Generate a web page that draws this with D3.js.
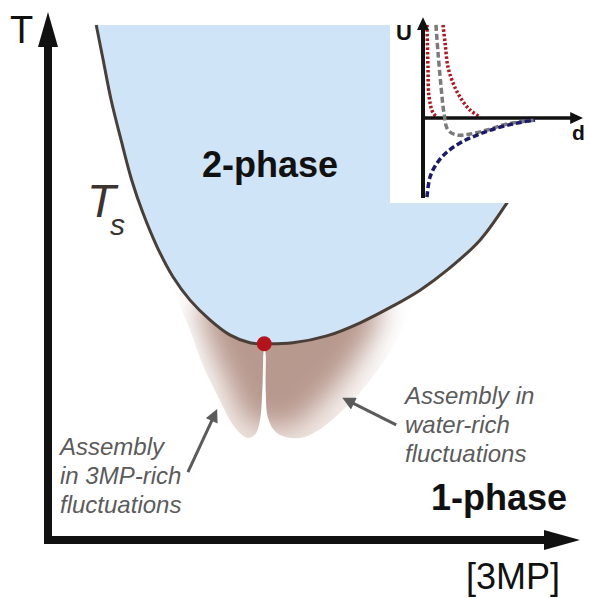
<!DOCTYPE html>
<html><head><meta charset="utf-8">
<script src="https://cdn.jsdelivr.net/npm/d3@7"></script>
<style>body{margin:0;background:#fff;overflow:hidden}</style>
</head><body>
<script>
// ---- data (schematic phase diagram; x = [3MP] fraction, T = reduced temperature) ----
const coexX = [0.091,0.104,0.119,0.138,0.158,0.179,0.206,0.236,0.268,0.306,0.343,0.381,0.408,0.462,0.526,0.589,0.651,0.702,0.753,0.815,0.866,0.909];
const coexT = [0.979,0.913,0.837,0.760,0.684,0.622,0.557,0.500,0.456,0.418,0.390,0.375,0.373,0.375,0.388,0.413,0.445,0.475,0.513,0.570,0.641,0.713];
const topT = 0.979;
const critical = {x:0.408, T:0.373};

// outlines of the two fluctuation lobes below the critical point
const lobeLeftX = [0.249,0.208,0.236,0.268,0.292,0.319,0.353,0.377,0.392,0.400,0.404,0.406,0.406,0.325];
const lobeLeftT = [0.570,0.548,0.475,0.399,0.333,0.276,0.213,0.194,0.202,0.228,0.276,0.348,0.390,0.456];
const lobeRightX = [0.411,0.411,0.411,0.415,0.430,0.457,0.485,0.517,0.557,0.608,0.651,0.692,0.711,0.532];
const lobeRightT = [0.390,0.348,0.276,0.232,0.205,0.194,0.196,0.213,0.247,0.304,0.367,0.456,0.494,0.418];
// region of strongest fluctuations (darkest shading)
const coreX = [0.287,0.296,0.334,0.372,0.396,0.409,0.423,0.457,0.513,0.570,0.617,0.626,0.408];
const coreT = [0.456,0.390,0.304,0.228,0.213,0.219,0.213,0.213,0.257,0.323,0.399,0.456,0.456];

const arrowLeft  = [[0.264,0.129],[0.315,0.240]];
const arrowRight = [[0.657,0.219],[0.564,0.266]];

// inset: pair potentials U(d)
const redNearD = [0.025,0.031,0.038,0.063,0.088];
const redNearU = [1.163,0.638,0.263,0.063,0.013];
const redFarD  = [0.125,0.138,0.156,0.188,0.231,0.294,0.356];
const redFarU  = [1.163,0.938,0.638,0.438,0.263,0.100,0.013];
const grayD    = [0.081,0.094,0.113,0.131,0.156,0.213,0.294,0.400,0.525,0.650,0.700];
const grayU    = [1.163,0.813,0.388,0.063,-0.150,-0.213,-0.200,-0.150,-0.075,-0.038,-0.025];
const navyD    = [0.025,0.044,0.088,0.150,0.231,0.338,0.463,0.588,0.700];
const navyU    = [-0.988,-0.738,-0.563,-0.425,-0.313,-0.213,-0.125,-0.063,-0.025];

const labelsLeft  = ["Assembly","in 3MP-rich","fluctuations"];
const labelsRight = ["Assembly in","water-rich","fluctuations"];

// ---- drawing ----
const W = 589, H = 598;
const FONT = "'Liberation Sans', Arial, Helvetica, sans-serif";
const svg = d3.select("body").append("svg").attr("width", W).attr("height", H);
const defs = svg.append("defs");

const x = d3.scaleLinear().domain([0,1]).range([48,578]);
const y = d3.scaleLinear().domain([0,1]).range([540,14]);

const zip = (a,b) => a.map((v,i)=>[v,b[i]]);

// fluctuation lobes: light base + blurred core, clipped to lobe outlines
const closedLine = d3.line().x(d=>x(d[0])).y(d=>y(d[1])).curve(d3.curveCatmullRomClosed.alpha(0.5));
const lobePaths = [closedLine(zip(lobeLeftX, lobeLeftT)), closedLine(zip(lobeRightX, lobeRightT))];

const clip = defs.append("clipPath").attr("id","lobeClip");
lobePaths.forEach(p => clip.append("path").attr("d", p));

const filt = defs.append("filter").attr("id","soft").attr("filterUnits","userSpaceOnUse")
  .attr("x",0).attr("y",0).attr("width",W).attr("height",H);
filt.append("feGaussianBlur").attr("stdDeviation",14);

const baseGrad = defs.append("linearGradient").attr("id","bg").attr("gradientUnits","userSpaceOnUse")
  .attr("x1",0).attr("x2",0).attr("y1", y(critical.T)).attr("y2", y(0.194));
baseGrad.append("stop").attr("offset",0).attr("stop-color","#efe4df").attr("stop-opacity",0);
baseGrad.append("stop").attr("offset",0.5).attr("stop-color","#efe4df").attr("stop-opacity",0.4);
baseGrad.append("stop").attr("offset",1).attr("stop-color","#efe4df").attr("stop-opacity",0.9);

const lobeOuter = svg.append("g").attr("clip-path","url(#lobeClip)");
lobePaths.forEach(p => lobeOuter.append("path").attr("d", p).attr("fill","url(#bg)"));
lobeOuter.append("path").attr("d", closedLine(zip(coreX, coreT)))
  .attr("fill","#b8998e").attr("filter","url(#soft)");

// two-phase region
const coex = zip(coexX, coexT);
const area = d3.area().x(d=>x(d[0])).y0(y(topT)).y1(d=>y(d[1])).curve(d3.curveCatmullRom.alpha(0.5));
svg.append("path").attr("d", area(coex)).attr("fill","#cfe4f6");
svg.append("path").attr("d", d3.line().x(d=>x(d[0])).y(d=>y(d[1])).curve(d3.curveCatmullRom.alpha(0.5))(coex))
  .attr("fill","none").attr("stroke","#4a3f37").attr("stroke-width",3);
svg.append("circle").attr("cx", x(critical.x)).attr("cy", y(critical.T)).attr("r",7.5).attr("fill","#b5131c");

// main axes
const axisColor = "#111";
svg.append("path").attr("d", `M${x(0)},46 L${x(0)},${y(0)} L545,${y(0)}`)
  .attr("fill","none").attr("stroke",axisColor).attr("stroke-width",8).attr("stroke-linejoin","miter").attr("stroke-linecap","square");
svg.append("path").attr("d", `M${x(0)},12 L${x(0)+10},47 L${x(0)-10},47 Z`).attr("fill",axisColor);
svg.append("path").attr("d", `M580,${y(0)} L544,${y(0)-10} L544,${y(0)+10} Z`).attr("fill",axisColor);

// text labels
svg.append("text").attr("x",10).attr("y",43).text("T")
  .attr("font-family",FONT).attr("font-size",38).attr("fill","#111");
svg.append("text").attr("x",560).attr("y",589).attr("text-anchor","end").text("[3MP]")
  .attr("font-family",FONT).attr("font-size",36).attr("fill","#111");
svg.append("text").attr("x",270).attr("y",177).attr("text-anchor","middle").text("2-phase")
  .attr("font-family",FONT).attr("font-size",36).attr("font-weight","bold").attr("fill","#111");
svg.append("text").attr("x",567).attr("y",510).attr("text-anchor","end").text("1-phase")
  .attr("font-family",FONT).attr("font-size",36).attr("font-weight","bold").attr("fill","#111");
svg.append("text").attr("x",87).attr("y",217).attr("font-family",FONT).attr("fill","#3b3430")
  .attr("font-style","italic").attr("font-size",47).text("T");
svg.append("text").attr("x",110).attr("y",235).attr("font-family",FONT).attr("fill","#3b3430")
  .attr("font-style","italic").attr("font-size",30).text("s");

svg.selectAll("text.ll").data(labelsLeft).join("text").attr("class","ll")
  .attr("x",60).attr("y",(d,i)=>455+i*29).text(d=>d)
  .attr("font-family",FONT).attr("font-size",24).attr("font-style","italic").attr("fill","#5b5b5b");
svg.selectAll("text.lr").data(labelsRight).join("text").attr("class","lr")
  .attr("x",405).attr("y",(d,i)=>404+i*29).text(d=>d)
  .attr("font-family",FONT).attr("font-size",24).attr("font-style","italic").attr("fill","#5b5b5b");

// gray annotation arrows
defs.append("marker").attr("id","ah").attr("viewBox","0 0 10 10").attr("refX",6).attr("refY",5)
  .attr("markerUnits","userSpaceOnUse").attr("markerWidth",15).attr("markerHeight",13).attr("orient","auto")
  .append("path").attr("d","M0,0 L10,5 L0,10 Z").attr("fill","#5b5b5b");
[arrowLeft, arrowRight].forEach(a=>{
  svg.append("path").attr("d", d3.line().x(d=>x(d[0])).y(d=>y(d[1]))(a))
    .attr("stroke","#5b5b5b").attr("stroke-width",3).attr("fill","none").attr("marker-end","url(#ah)");
});

// ---- inset ----
svg.append("rect").attr("x",390).attr("y",0).attr("width",W-390).attr("height",203).attr("fill","#fff");
const dS = d3.scaleLinear().domain([0,1]).range([423,583]);
const uS = d3.scaleLinear().domain([-1,1]).range([198,38]);
const iline = d3.line().x(d=>dS(d[0])).y(d=>uS(d[1])).curve(d3.curveCatmullRom);
svg.append("path").attr("d", iline(zip(redNearD, redNearU))).attr("fill","none")
  .attr("stroke","#b3141f").attr("stroke-width",3.5).attr("stroke-dasharray","2.5,2");
svg.append("path").attr("d", iline(zip(redFarD, redFarU))).attr("fill","none")
  .attr("stroke","#b3141f").attr("stroke-width",3.5).attr("stroke-dasharray","2.5,2");
// inset axes
svg.append("line").attr("x1",dS(0)).attr("x2",dS(0)).attr("y1",uS(-1.0)).attr("y2",uS(1.1))
  .attr("stroke","#111").attr("stroke-width",4);
svg.append("line").attr("x1",dS(0)-2).attr("x2",dS(0.93)).attr("y1",uS(0)).attr("y2",uS(0))
  .attr("stroke","#111").attr("stroke-width",3.5);
svg.append("path").attr("d",`M${dS(0)},${uS(1.26)} L${dS(0)+6},${uS(1.1)} L${dS(0)-6},${uS(1.1)} Z`).attr("fill","#111");
svg.append("path").attr("d",`M${dS(1.0)},${uS(0)} L${dS(0.92)},${uS(0)-6} L${dS(0.92)},${uS(0)+6} Z`).attr("fill","#111");
svg.append("path").attr("d", iline(zip(grayD, grayU))).attr("fill","none")
  .attr("stroke","#7b7b7b").attr("stroke-width",3.5).attr("stroke-dasharray","6,3");
svg.append("path").attr("d", iline(zip(navyD, navyU))).attr("fill","none")
  .attr("stroke","#1d1a6b").attr("stroke-width",3.5).attr("stroke-dasharray","6,3");
svg.append("text").attr("x",396).attr("y",40).text("U")
  .attr("font-family",FONT).attr("font-size",22).attr("font-weight","bold").attr("fill","#111");
svg.append("text").attr("x",572).attr("y",140).text("d")
  .attr("font-family",FONT).attr("font-size",21).attr("font-weight","bold").attr("fill","#111");
</script>
</body></html>
